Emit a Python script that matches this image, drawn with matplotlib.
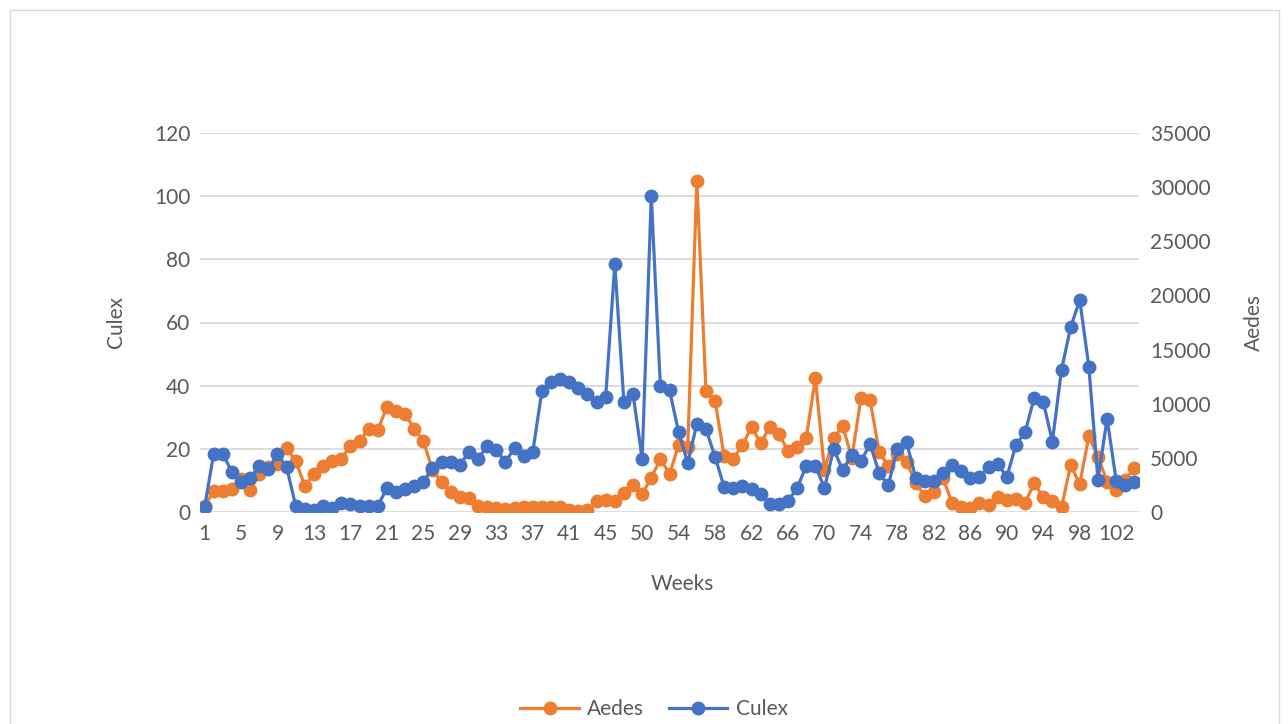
import matplotlib
matplotlib.use("Agg")
import matplotlib.pyplot as plt
from matplotlib.patches import Rectangle
import numpy as np

plt.rcParams["font.family"] = ["Lato", "DejaVu Sans"]

# Week labels on the category axis (week 46 is absent from the record)
weeks = [str(w) for w in list(range(1, 46)) + list(range(47, 105))]

culex = [1.5, 18.4, 18.4, 12.7, 9.5, 10.8, 14.6, 13.6, 18.4, 14.2,
         1.9, 1.0, 0.6, 1.9, 1.2, 2.8, 2.5, 1.9, 1.9, 1.9,
         7.6, 6.3, 7.3, 8.2, 9.5, 13.9, 15.8, 15.8, 14.9, 19.0,
         16.8, 20.9, 19.6, 15.8, 20.3, 17.7, 19.0, 38.3, 41.2, 42.1,
         41.2, 39.3, 37.4, 34.8, 36.4, 78.5, 34.8, 37.4, 16.8, 100.0,
         39.9, 38.6, 25.3, 15.5, 27.9, 26.3, 17.4, 7.9, 7.6, 8.2,
         7.3, 5.7, 2.5, 2.5, 3.5, 7.6, 14.6, 14.6, 7.6, 19.9,
         13.3, 18.0, 16.1, 21.5, 12.3, 8.5, 20.0, 22.2, 10.8, 9.8,
         9.8, 12.3, 14.9, 13.0, 10.8, 11.1, 14.2, 15.2, 11.1, 21.2,
         25.2, 36.1, 34.8, 22.3, 45.0, 58.5, 67.1, 46.0, 10.1, 29.6,
         9.9, 8.5, 9.5]

aedes = [550, 1930, 1930, 2130, 3030, 2050, 3500, 4140, 4430, 5920,
         4700, 2400, 3500, 4260, 4700, 4900, 6100, 6560, 7670, 7580,
         9680, 9330, 9040, 7700, 6560, 3880, 2770, 1840, 1430, 1280,
         550, 470, 380, 290, 380, 470, 470, 470, 470, 470,
         180, 90, 180, 1020, 1110, 1020, 1750, 2480, 1660, 3150,
         4900, 3500, 6180, 6010, 30570, 11170, 10240, 5150, 4900, 6180,
         7850, 6360, 7850, 7200, 5630, 6010, 6830, 12370, 3880, 6830,
         7930, 4990, 10530, 10350, 5540, 4260, 5370, 4610, 2680, 1490,
         1840, 3150, 820, 420, 330, 850, 640, 1370, 1110, 1200,
         820, 2650, 1370, 1020, 470, 4300, 2600, 7000, 5100, 2800,
         2000, 3000, 4050]

culex_ticks = [0, 20, 40, 60, 80, 100, 120]
aedes_ticks = [0, 5000, 10000, 15000, 20000, 25000, 30000, 35000]

BLUE = "#4472C4"
ORANGE = "#ED7D31"
GRID = "#D9D9D9"
TEXT = "#595959"
FS = 15

W, H = 1288, 724
fig = plt.figure(figsize=(W / 100, H / 100), dpi=100)
fig.patch.set_facecolor("white")

# light chart border
fig.patches.append(Rectangle((10 / W, -0.05), (1279 - 10) / W, 1.05 - 10 / H,
                             transform=fig.transFigure, fill=False,
                             edgecolor=GRID, linewidth=1.0))

left, right = 200 / W, 1139 / W
bottom, top = 1 - 512 / H, 1 - 133 / H
ax2 = fig.add_axes([left, bottom, right - left, top - bottom])
ax = fig.add_axes([left, bottom, right - left, top - bottom], sharex=ax2)
ax.patch.set_visible(False)

x = np.arange(len(weeks))

ax2.plot(x, aedes, color=ORANGE, lw=2.3, marker="o", ms=10,
         markeredgewidth=0, label="Aedes", zorder=3)
ax.plot(x, culex, color=BLUE, lw=2.3, marker="o", ms=10,
        markeredgewidth=0, label="Culex", zorder=3)

ax.set_ylim(0, 120)
ax2.set_ylim(0, 35000)
ax.set_xlim(-0.5, len(weeks) - 0.5)

ax.set_yticks(culex_ticks)
ax2.set_yticks(aedes_ticks)
for t in culex_ticks:
    ax2.axhline(t * 35000 / 120, color=GRID, lw=1.3, zorder=0)

ax2.yaxis.tick_right()
ax2.yaxis.set_label_position("right")
ax2.tick_params(axis="y", length=0, pad=8, labelsize=FS, labelcolor=TEXT)
ax.tick_params(axis="y", length=0, pad=7, labelsize=FS, labelcolor=TEXT)

ax.set_xticks(x[::4])
ax.set_xticklabels(weeks[::4])
ax.tick_params(axis="x", length=0, pad=9, labelsize=FS, labelcolor=TEXT)
ax2.tick_params(axis="x", bottom=False, labelbottom=False)

for a in (ax, ax2):
    for s in a.spines.values():
        s.set_visible(False)

ax.set_ylabel("Culex", fontsize=FS, color=TEXT, labelpad=20)
ax2.set_ylabel("Aedes", fontsize=FS, color=TEXT, labelpad=24)
ax.set_xlabel("Weeks", fontsize=FS, color=TEXT)
ax.xaxis.set_label_coords((682 - 200) / (1139 - 200), -0.164)

h2, l2 = ax2.get_legend_handles_labels()
h1, l1 = ax.get_legend_handles_labels()
fig.legend(h2 + h1, l2 + l1, loc="center", bbox_to_anchor=(654 / W, 1 - 709 / H),
           ncol=2, frameon=False, fontsize=FS, labelcolor=TEXT,
           handlelength=2.8, columnspacing=1.2, handletextpad=0.4)

fig.savefig("out.png", dpi=100, facecolor="white")
